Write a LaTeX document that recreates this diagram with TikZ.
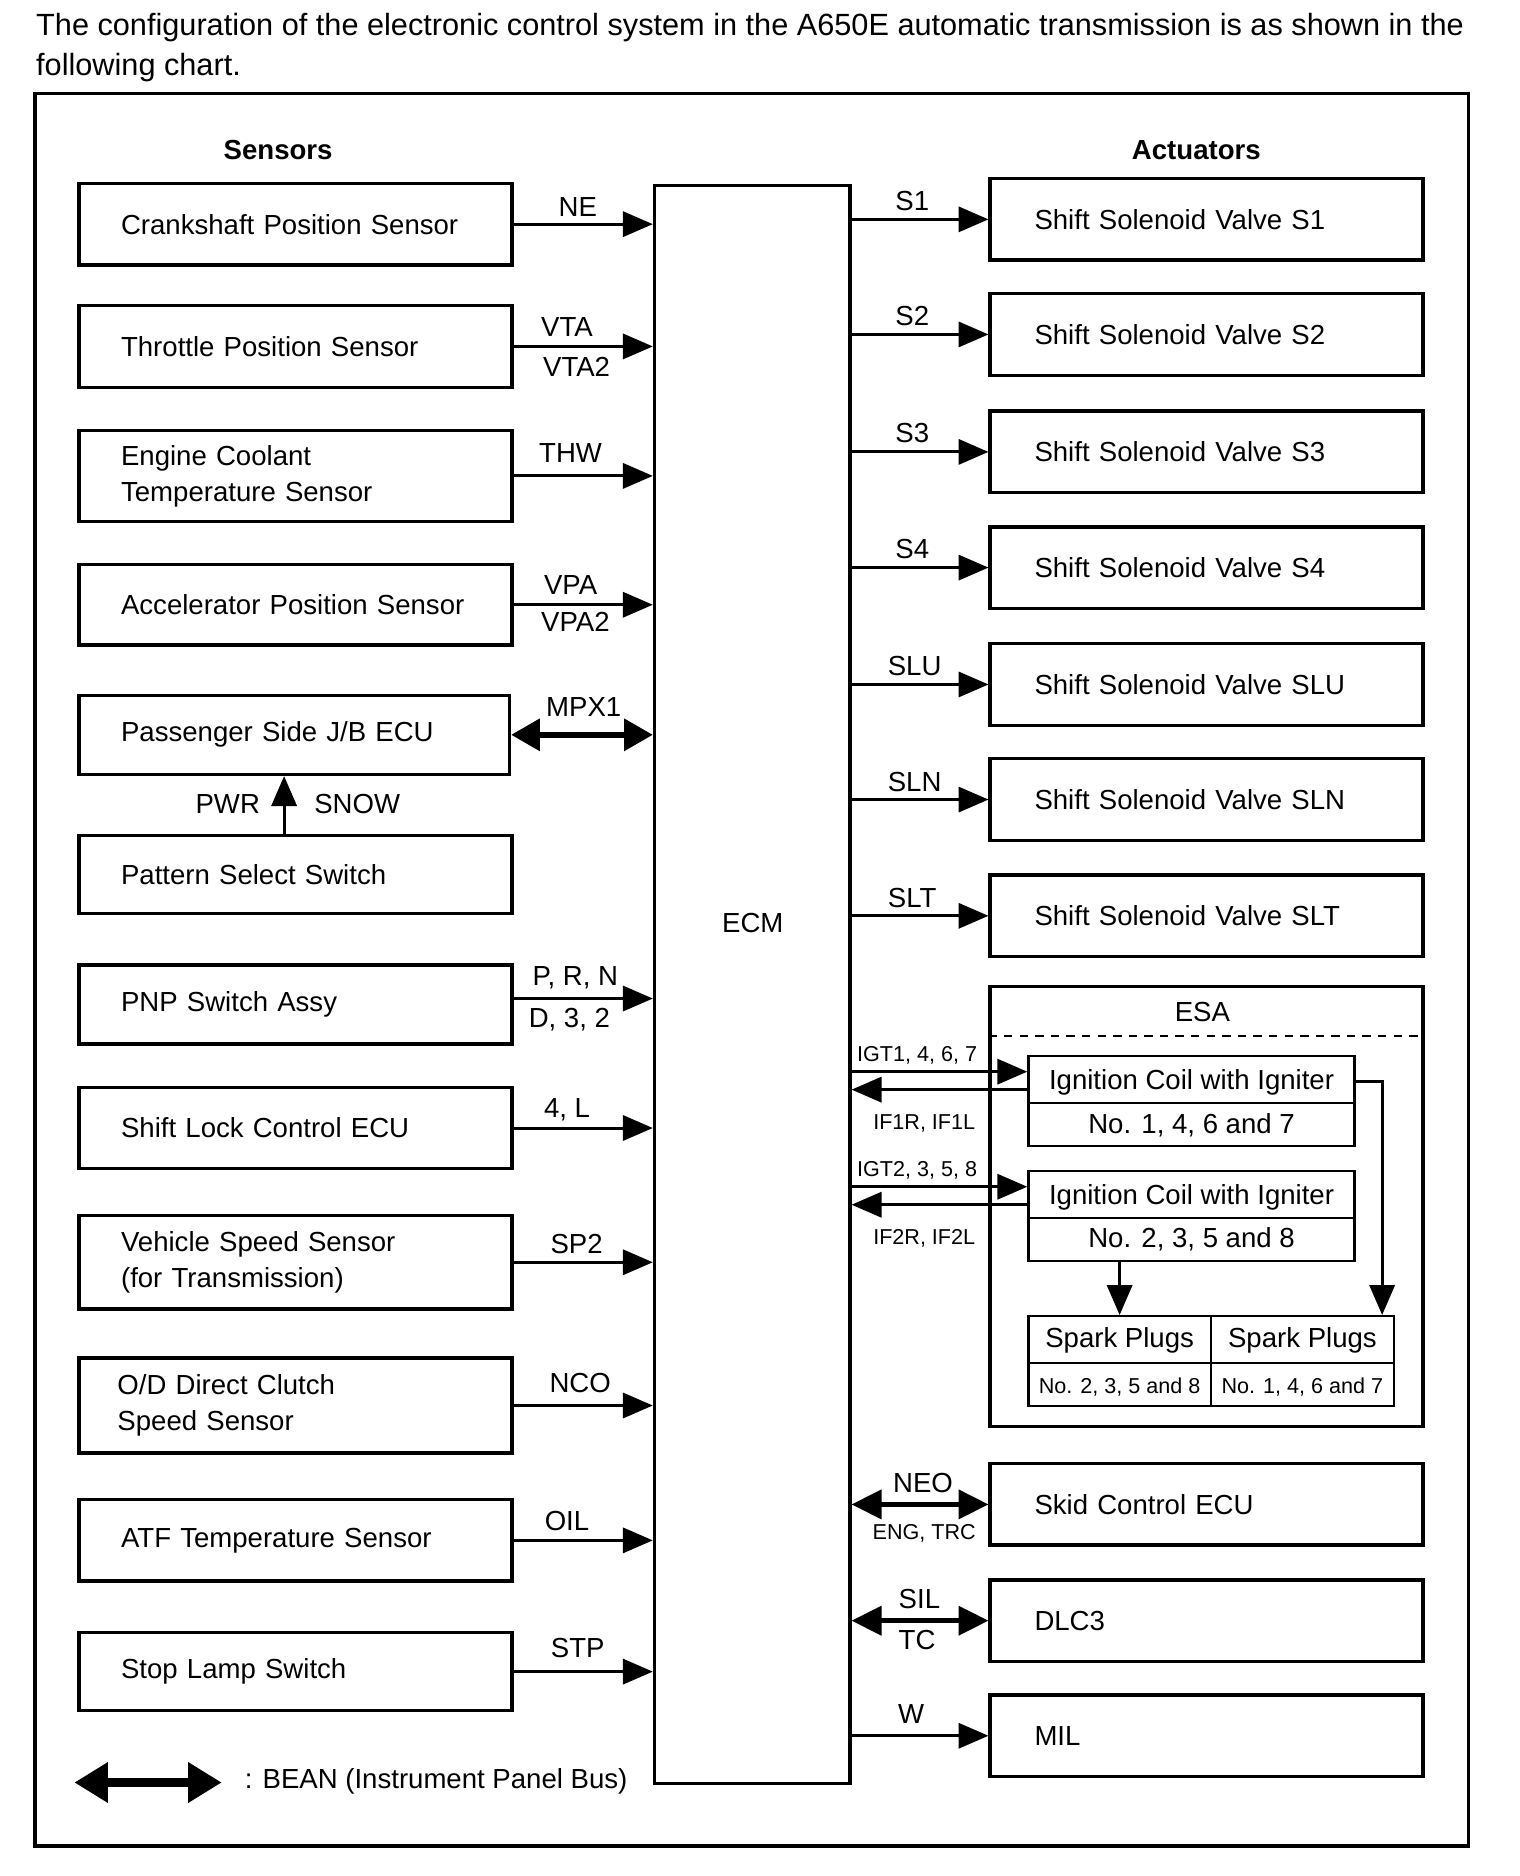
\documentclass[tikz,border=0pt]{standalone}
\usepackage{fontspec}
\setmainfont{Liberation Sans}
\usetikzlibrary{arrows.meta}
\newcommand\fmain{\fontsize{23}{30}\selectfont}
\newcommand\fsmall{\fontsize{18}{21}\selectfont}
\begin{document}
\begin{tikzpicture}[x=1pt,y=-1pt,
  every node/.style={font=\fmain, inner sep=0pt},
  sbox/.style={draw, line width=2.8pt, minimum width=361pt, text width=291pt, inner xsep=35pt, align=left},
  abox/.style={draw, line width=2.8pt, minimum width=361pt, text width=287pt, inner xsep=37pt, align=left, minimum height=68pt},
  cbox/.style={draw, line width=2pt},
  sig/.style={line width=2.5pt, -{Triangle[length=25pt,width=21pt]}},
  bus/.style={line width=5pt, {Triangle[length=24pt,width=26pt]}-{Triangle[length=24pt,width=26pt]}},
  bus2/.style={line width=4pt, {Triangle[length=25pt,width=24pt]}-{Triangle[length=25pt,width=24pt]}},
  slbl/.style={font=\fsmall}]
\useasboundingbox (0,0) rectangle (1268,1565);

% header
\node[anchor=north west, align=left, font=\fontsize{25.6}{33}\selectfont] (hdr) at (30,11)
  {The configuration of the electronic control system in the A650E automatic transmission is as shown in the\\following chart.};
\draw[line width=3pt] (29,78) rectangle (1225,1540);

\node[font=\fmain\bfseries] (sens) at (232,125) {Sensors};
\node[font=\fmain\bfseries] (act) at (998,125) {Actuators};

% ECM
\node[draw, line width=2.8pt, minimum width=163pt, minimum height=1333pt] (ecm) at (627.5,821.5) {};
\node (ecmlbl) at (628,770) {ECM};

% sensors
\node[sbox, minimum height=68pt] (cps) at (246.5,187) {Crankshaft Position Sensor};
\node[sbox, minimum height=68pt] (tps) at (246.5,289) {Throttle Position Sensor};
\node[sbox, minimum height=76pt] (ect) at (246.5,397) {Engine Coolant\\Temperature Sensor};
\node[sbox, minimum height=67pt] (aps) at (246.5,504.5) {Accelerator Position Sensor};
\node[sbox, minimum width=359pt, text width=289pt, minimum height=66pt] (jb) at (245.5,613) {Passenger Side J/B ECU};
\node[sbox, minimum height=65pt] (pss) at (246.5,729.5) {Pattern Select Switch};
\node[sbox, minimum height=66pt] (pnp) at (246.5,838) {PNP Switch Assy};
\node[sbox, minimum height=68pt] (slc) at (246.5,941) {Shift Lock Control ECU};
\node[sbox, minimum height=78pt] (vss) at (246.5,1053) {Vehicle Speed Sensor\\(for Transmission)};
\node[sbox, minimum height=79pt, inner xsep=32pt, text width=297pt] (odc) at (246.5,1172.5) {O/D Direct Clutch\\Speed Sensor};
\node[sbox, minimum height=68pt] (atf) at (246.5,1285) {ATF Temperature Sensor};
\node[sbox, minimum height=65pt] (stp) at (246.5,1394.5) {Stop Lamp Switch};

\draw[sig] (cps.east) -- (cps.east -| ecm.west);
\draw[sig] (tps.east) -- (tps.east -| ecm.west);
\draw[sig] (ect.east) -- (ect.east -| ecm.west);
\draw[sig] (aps.east) -- (aps.east -| ecm.west);
\draw[bus] (jb.east) -- (jb.east -| ecm.west);
\coordinate (pwx) at (237,0);
\draw[sig] (pss.north -| pwx) -- (jb.south -| pwx);
\coordinate (pnpe) at ([yshift=5pt]pnp.east);
\draw[sig] (pnpe) -- (pnpe -| ecm.west);
\draw[sig] (slc.east) -- (slc.east -| ecm.west);
\draw[sig] (vss.east) -- (vss.east -| ecm.west);
\draw[sig] (odc.east) -- (odc.east -| ecm.west);
\draw[sig] (atf.east) -- (atf.east -| ecm.west);
\draw[sig] (stp.east) -- (stp.east -| ecm.west);

\node (lne) at (482,173) {NE};
\node (lvta) at (473,273) {VTA};
\node (lvta2) at (481,306) {VTA2};
\node (lthw) at (476,378) {THW};
\node (lvpa) at (476,488) {VPA};
\node (lvpa2) at (480,519) {VPA2};
\node (lmpx) at (487,590) {MPX1};
\node (lpwr) at (190,671) {PWR};
\node (lsnow) at (298,671) {SNOW};
\node (lprn) at (480,816) {P, R, N};
\node (ld32) at (475,851) {D, 3, 2};
\node (l4l) at (473,926) {4, L};
\node (lsp2) at (481,1038) {SP2};
\node (lnco) at (484,1154) {NCO};
\node (loil) at (473,1269) {OIL};
\node (lstp) at (482,1375) {STP};

% legend
\coordinate (lga) at (62,1487);
\coordinate (lgb) at (185,1487);
\draw[line width=7pt, {Triangle[length=28pt,width=32pt]}-{Triangle[length=28pt,width=32pt]}] (lga) -- (lgb);
\node[anchor=west] (lgt) at (204,1486) {: BEAN (Instrument Panel Bus)};

% actuators
\node[abox] (s1) at (1006.5,183) {Shift Solenoid Valve S1};
\node[abox] (s2) at (1006.5,279) {Shift Solenoid Valve S2};
\node[abox] (s3) at (1006.5,377) {Shift Solenoid Valve S3};
\node[abox] (s4) at (1006.5,473.5) {Shift Solenoid Valve S4};
\node[abox] (slu) at (1006.5,571) {Shift Solenoid Valve SLU};
\node[abox] (sln) at (1006.5,667) {Shift Solenoid Valve SLN};
\node[abox] (slt) at (1006.5,764) {Shift Solenoid Valve SLT};
\node[abox] (skid) at (1006.5,1255) {Skid Control ECU};
\node[abox] (dlc) at (1006.5,1352) {DLC3};
\node[abox] (mil) at (1006.5,1448) {MIL};

\foreach \b in {s1,s2,s3,s4,slu,sln,slt,mil}
  \draw[sig] (\b.west -| ecm.east) -- (\b.west);
\draw[bus2] (skid.west -| ecm.east) -- (skid.west);
\draw[bus2] (dlc.west -| ecm.east) -- (dlc.west);

\node (ls1) at (761,168) {S1};
\node (ls2) at (761,264) {S2};
\node (ls3) at (761,361) {S3};
\node (ls4) at (761,458) {S4};
\node (lslu) at (763,556) {SLU};
\node (lsln) at (763,652) {SLN};
\node (lslt) at (761,749) {SLT};
\node (lneo) at (770,1237) {NEO};
\node[slbl] (leng) at (771,1279) {ENG, TRC};
\node (lsil) at (767,1334) {SIL};
\node (ltc) at (765,1368) {TC};
\node (lw) at (760,1430) {W};

% ESA
\node[draw, line width=2.8pt, minimum width=361pt, minimum height=367pt] (esa) at (1006.5,1006.5) {};
\node (esat) at (1003,844) {ESA};
\coordinate (dy) at (0,864);
\draw[line width=1.5pt, dash pattern=on 7pt off 6pt] (esa.west |- dy) -- (esa.east |- dy);

\node[cbox, minimum width=272pt, minimum height=75pt] (c1) at (994,918.5) {};
\coordinate (d1) at (0,920);
\draw[line width=2pt] (c1.west |- d1) -- (c1.east |- d1);
\node (c1a) at (994,903) {Ignition Coil with Igniter};
\node (c1b) at (994,939) {No. 1, 4, 6 and 7};

\node[cbox, minimum width=272pt, minimum height=75pt] (c2) at (994,1014.5) {};
\coordinate (d2) at (0,1016);
\draw[line width=2pt] (c2.west |- d2) -- (c2.east |- d2);
\node (c2a) at (994,999) {Ignition Coil with Igniter};
\node (c2b) at (994,1034) {No. 2, 3, 5 and 8};

\node[cbox, minimum width=152pt, minimum height=75pt] (sp1) at (934,1135.5) {};
\node[cbox, minimum width=153pt, minimum height=75pt] (sp2) at (1086.5,1135.5) {};
\coordinate (d3) at (0,1137);
\draw[line width=2pt] (sp1.west |- d3) -- (sp2.east |- d3);
\node (sp1a) at (934,1118) {Spark Plugs};
\node[slbl] (sp1b) at (934,1157) {No. 2, 3, 5 and 8};
\node (sp2a) at (1086.5,1118) {Spark Plugs};
\node[slbl] (sp2b) at (1086.5,1157) {No. 1, 4, 6 and 7};

\coordinate (i1) at ([yshift=24.5pt]c1.west);
\coordinate (f1) at ([yshift=9.5pt]c1.west);
\coordinate (i2) at ([yshift=24.5pt]c2.west);
\coordinate (f2) at ([yshift=9.5pt]c2.west);
\draw[sig] (i1 -| ecm.east) -- (i1);
\draw[sig] (f1) -- (f1 -| ecm.east);
\draw[sig] (i2 -| ecm.east) -- (i2);
\draw[sig] (f2) -- (f2 -| ecm.east);
\node[slbl] (li1) at (765,880) {IGT1, 4, 6, 7};
\node[slbl] (lf1) at (771,937) {IF1R, IF1L};
\node[slbl] (li2) at (765,976) {IGT2, 3, 5, 8};
\node[slbl] (lf2) at (771,1033) {IF2R, IF2L};

\draw[sig] (c2.south -| sp1.north) -- (sp1.north);
\coordinate (c1o) at ([yshift=16.5pt]c1.east);
\coordinate (sp2t) at ([xshift=66.5pt]sp2.north);
\draw[sig] (c1o) -| (sp2t);
\end{tikzpicture}
\end{document}
